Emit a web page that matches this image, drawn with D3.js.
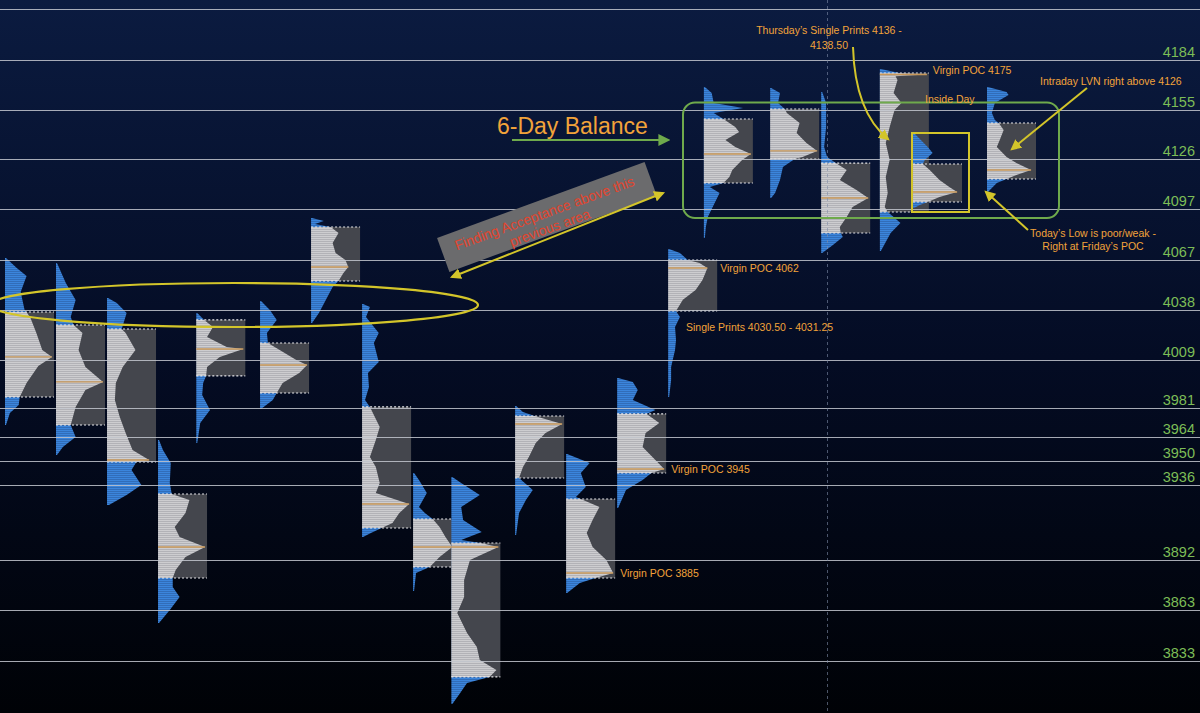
<!DOCTYPE html>
<html><head><meta charset="utf-8">
<script src="https://cdn.jsdelivr.net/npm/d3@7"></script>
<style>html,body{margin:0;padding:0;background:#000;}svg{display:block;}</style>
</head><body>
<svg id="c" width="1200" height="713"></svg>
<script>
// ---------- DATA ----------
const levels = [4214, 4184, 4155, 4126, 4097, 4067, 4038, 4009, 3981, 3964, 3950, 3936, 3892, 3863, 3833];
const levelLabels = ["", "4184", "4155", "4126", "4097", "4067", "4038", "4009", "3981", "3964", "3950", "3936", "3892", "3863", "3833"];
// session positions on the time axis
const sessionX = [0, 1, 2, 3, 3.75, 5, 6, 7, 8, 8.75, 10, 11, 12, 13, 13.7, 15, 16, 17.15, 17.8, 19.25];
const vah = [4036.8, 4029.2, 4026.9, 3930.5, 4032.2, 4018.7, 4086.5, 3981.4, 3915.9, 3901.9, 3976.1, 3927.6, 3977.3, 4067.2, 4149.5, 4155.4, 4123.8, 4176.4, 4123.3, 4147.2];
const val = [3987.2, 3970.8, 3949.2, 3881.5, 3999.5, 3989.5, 4054.9, 3910.7, 3887.9, 3823.7, 3939.9, 3881.5, 3942.8, 4037.4, 4112.2, 4126.2, 4083, 4095.2, 4101.1, 4114.5];
const poc = [4010.6, 3996, 3950.4, 3899.6, 4015.2, 4005.9, 4063.1, 3924.7, 3899.6, 3899.6, 3971.4, 3884.4, 3945.1, 4062.5, 4129.1, 4130.9, 4103.4, 4175.5, 4106.9, 4119.8];
// volume profiles: [price, relative volume]
const profile01 = [[4068.4,1],[4062.5,12],[4057.9,22],[4048.5,16],[4038,20],[4036.8,22],[4033.3,26],[4024.6,32],[4014.6,38],[4010.6,48],[4005.3,34],[3995.4,22],[3987.2,15],[3982.5,14],[3977.8,5],[3970.8,1]];
const profile02 = [[4065.4,1],[4053.8,10],[4043.8,20],[4033.9,15],[4029.2,18],[4024.6,27],[4014.6,23],[4004.7,30],[3996,48],[3991.3,30],[3981.4,20],[3970.8,15],[3963.8,20],[3958,7],[3953.3,1]];
const profile03 = [[4045,1],[4042.1,10],[4036.2,20],[4026.9,15],[4024.6,19],[4014.6,29],[4004.7,16],[3995.4,9],[3985.4,8],[3975.5,13],[3966.2,19],[3956.2,26],[3950.4,43],[3949.2,30],[3944.6,25],[3935.8,35],[3930,20],[3924.1,2]];
const profile04 = [[3962.1,1],[3956.2,5],[3948.6,13],[3937,12],[3930.5,14],[3927,32],[3919.4,28],[3911.3,17],[3905.4,22],[3899.6,48],[3893.8,28],[3886.2,18],[3881.5,15],[3876.2,15],[3870.4,22],[3862.8,12],[3855.2,1]];
const profile05 = [[4036.2,1],[4032.2,8],[4028.1,17],[4022.2,11],[4016.4,31],[4015.2,48],[4010.6,24],[4004.7,11],[3999.5,10],[3995.4,7],[3988.4,6],[3979.6,14],[3972,4],[3960.3,1]];
const profile06 = [[4043.3,1],[4038,10],[4032.2,17],[4024.6,7],[4018.7,8],[4014.6,20],[4008.8,37],[4005.9,48],[4001.2,40],[3995.4,23],[3989.5,17],[3985.4,13],[3980.2,1]];
const profile07 = [[4091.7,1],[4090,13],[4088.2,4],[4086.5,20],[4083,28],[4077.1,22],[4071.3,25],[4067.2,35],[4063.1,38],[4059.6,33],[4054.9,28],[4051.4,22],[4043.8,15],[4036.2,8],[4030.4,1]];
const profile08 = [[4041.5,1],[4039.8,8],[4033.9,4],[4024.6,17],[4018.7,12],[4007.6,17],[4001.2,6],[3993,7],[3985.4,3],[3981.4,8],[3977.8,11],[3969.7,18],[3962.1,14],[3952.2,8],[3946.3,14],[3937,18],[3931.1,14],[3924.7,48],[3919.4,38],[3913.6,31],[3910.7,20],[3907.8,9],[3905.4,1]];
const profile09 = [[3942.8,1],[3938.7,6],[3931.1,14],[3923,6],[3919.4,12],[3915.9,20],[3911.3,27],[3905.4,33],[3899.6,40],[3893.8,27],[3887.9,17],[3884.4,3],[3873.9,1]];
const profile10 = [[3940.5,1],[3937,10],[3930,29],[3923,10],[3915.4,12],[3908.4,31],[3903.7,10],[3901.9,30],[3899.6,48],[3892,19],[3880.3,13],[3870.4,13],[3861,6],[3849.4,16],[3841.2,26],[3833.6,29],[3827.8,46],[3823.7,39],[3820.2,16],[3814.3,9],[3807.9,1]];
const profile11 = [[3981.9,1],[3978.4,8],[3976.1,20],[3971.4,48],[3966.2,31],[3960.3,21],[3952.2,14],[3946.3,8],[3939.9,4],[3932.9,18],[3927,11],[3919.4,4],[3906.6,1]];
const profile12 = [[3953.9,1],[3948.6,24],[3942.8,15],[3934.6,20],[3928.8,10],[3923,34],[3915.4,27],[3907.8,21],[3899.6,27],[3892,41],[3884.4,48],[3881.5,30],[3878.6,14],[3872.7,1]];
const profile13 = [[3998.3,1],[3996,16],[3991.3,21],[3985.4,16],[3979.6,39],[3977.3,30],[3972,43],[3966.2,29],[3958,26],[3952.2,36],[3945.1,48],[3942.8,35],[3938.7,26],[3932.9,9],[3922.4,1]];
const profile14 = [[4073.6,1],[4071.3,12],[4067.2,20],[4065.4,32],[4062.5,40],[4059.6,38],[4055.5,35],[4049.7,28],[4044,15],[4037.4,8],[4033.9,12],[4028.1,7],[4020.5,8],[4014.6,7],[4004.7,3],[3997.1,3],[3987.2,1]];
const profile15 = [[4168.2,1],[4164.7,8],[4158.9,10],[4156,40],[4153,10],[4149.5,20],[4144.9,32],[4142,36],[4137.3,22],[4133.2,32],[4129.1,48],[4125.6,39],[4119.8,29],[4115.7,26],[4112.2,20],[4109.8,6],[4106.3,16],[4100.5,11],[4092.3,4],[4086.5,2],[4080,1]];
const profile16 = [[4167.6,1],[4164.7,10],[4158.9,8],[4155.4,15],[4153,17],[4147.2,30],[4141.4,27],[4135.5,37],[4130.9,48],[4127.4,33],[4126.2,25],[4121.5,13],[4113.9,10],[4106.3,5],[4103.4,1]];
const profile17 = [[4165.3,1],[4158.9,5],[4144.9,5],[4133.2,3],[4127.4,6],[4123.8,15],[4119.8,26],[4113.9,19],[4108.1,36],[4103.4,48],[4098.2,32],[4092.3,26],[4086.5,19],[4083,20],[4080.6,22],[4076,12],[4071.3,1]];
const profile18 = [[4178.7,1],[4176.4,20],[4175.5,48],[4174.5,16],[4172.3,18],[4164.7,14],[4158.9,22],[4154.8,15],[4144.9,10],[4135.5,6],[4125.6,10],[4115.7,6],[4106.3,8],[4098.2,5],[4095.2,8],[4092.3,14],[4088.8,21],[4083,11],[4072.5,1]];
const profile19 = [[4141.4,1],[4139,5],[4133.2,15],[4129.7,20],[4125.6,12],[4123.3,10],[4119.8,17],[4113.9,27],[4109.8,37],[4106.9,45],[4104,27],[4101.1,15],[4099.3,7],[4097.6,1]];
const profile20 = [[4168.2,1],[4165.3,20],[4163.6,22],[4158.9,8],[4153,5],[4149,8],[4147.2,12],[4143.1,17],[4137.3,13],[4133.2,10],[4127.4,20],[4123.8,30],[4119.8,45],[4116.8,30],[4114.5,20],[4112.2,10],[4106.9,1]];
const profiles = [profile01, profile02, profile03, profile04, profile05, profile06, profile07, profile08, profile09, profile10,
                  profile11, profile12, profile13, profile14, profile15, profile16, profile17, profile18, profile19, profile20];
// labels attached to sessions: [session index, text, dx, dy]
const pocLabels = [[17, "Virgin POC 4175", 4, -1], [13, "Virgin POC 4062", 3, 4], [12, "Virgin POC 3945", 5, 4], [11, "Virgin POC 3885", 5, 4]];

// ---------- SCALES ----------
const W = 1200, H = 713;
const x = d3.scaleLinear().domain([0, 19.25]).range([5, 987]);
const y = d3.scaleLinear().domain([4184, 3833]).range([60, 661]);
const w = d3.scaleLinear().domain([0, 50]).range([0, 49]);
const boxW = w(50);

const svg = d3.select("#c");
const defs = svg.append("defs");
const bg = defs.append("linearGradient").attr("id", "bg").attr("x1", 0).attr("y1", 0).attr("x2", 0).attr("y2", 1);
bg.append("stop").attr("offset", "0%").attr("stop-color", "#0b1b40");
bg.append("stop").attr("offset", "50%").attr("stop-color", "#040c24");
bg.append("stop").attr("offset", "100%").attr("stop-color", "#000206");
svg.append("rect").attr("width", W).attr("height", H).attr("fill", "url(#bg)");

function stripe(id, c1, c2) {
  const p = defs.append("pattern").attr("id", id).attr("patternUnits", "userSpaceOnUse").attr("width", 8).attr("height", 2);
  p.append("rect").attr("width", 8).attr("height", 2).attr("fill", c1);
  p.append("rect").attr("y", 1.3).attr("width", 8).attr("height", 0.7).attr("fill", c2);
}
stripe("stLight", "#cdcdd0", "#a6a7ac");
stripe("stBlue", "#3b85dc", "#2c62aa");

function marker(id, color, size) {
  defs.append("marker").attr("id", id).attr("viewBox", "0 0 10 10").attr("refX", 8).attr("refY", 5)
    .attr("markerWidth", size).attr("markerHeight", size).attr("markerUnits", "userSpaceOnUse")
    .attr("orient", "auto-start-reverse")
    .append("path").attr("d", "M0,0 L10,5 L0,10 Z").attr("fill", color);
}
marker("mY", "#d3c52a", 11);
marker("mG", "#6faa4c", 12);

// ---------- PROFILES ----------
const gP = svg.append("g");
profiles.forEach((prof, i) => {
  const x0 = x(sessionX[i]);
  const area = d3.area().y(d => y(d[0])).x0(x0).x1(d => x0 + w(d[1])).curve(d3.curveLinear);
  const g = gP.append("g");
  g.append("path").datum(prof).attr("d", area).attr("fill", "url(#stBlue)");
  const yT = y(vah[i]), yB = y(val[i]);
  g.append("rect").attr("x", x0).attr("y", yT).attr("width", boxW).attr("height", yB - yT).attr("fill", "#44464d");
  defs.append("clipPath").attr("id", "va" + i).append("rect")
    .attr("x", x0 - 2).attr("y", yT).attr("width", boxW + 10).attr("height", yB - yT);
  g.append("path").datum(prof).attr("d", area).attr("fill", "url(#stLight)").attr("clip-path", `url(#va${i})`);
  [yT, yB].forEach(yy => g.append("line").attr("x1", x0).attr("x2", x0 + boxW)
    .attr("y1", yy).attr("y2", yy).attr("stroke", "#e6e6ea").attr("stroke-width", 1.1).attr("stroke-dasharray", "2,2"));
  const pn = prof.find(d => d[0] === poc[i]);
  const pw = pn ? pn[1] : d3.max(prof, d => d[1]);
  g.append("line").attr("x1", x0).attr("x2", x0 + w(pw)).attr("y1", y(poc[i])).attr("y2", y(poc[i]))
    .attr("stroke", "#c8985a").attr("stroke-width", 1.4);
});

// ---------- LEVEL LINES ----------
svg.append("g").selectAll("line").data(levels).join("line")
  .attr("x1", 0).attr("x2", W).attr("y1", d => Math.round(y(d)) + 0.5).attr("y2", d => Math.round(y(d)) + 0.5)
  .attr("stroke", "#c3c7cf").attr("stroke-opacity", 0.85).attr("stroke-width", 1);
svg.append("g").selectAll("text").data(levels).join("text")
  .attr("x", 1195).attr("y", d => Math.round(y(d)) - 3).attr("text-anchor", "end")
  .attr("font-family", "Liberation Sans, Arial, sans-serif").attr("font-size", 14.5).attr("fill", "#7cbd57")
  .text((d, i) => levelLabels[i]);

// vertical dashed session line
svg.append("line").attr("x1", 827.5).attr("x2", 827.5).attr("y1", 0).attr("y2", H)
  .attr("stroke", "#7f8ca8").attr("stroke-opacity", 0.6).attr("stroke-dasharray", "3,3");

// ---------- ANNOTATIONS ----------
const FONT = "Liberation Sans, Arial, sans-serif";
const ORANGE = "#f2a33a", YEL = "#d3c52a", GREEN = "#6faa4c";
const ann = svg.append("g").attr("font-family", FONT);

// ellipse
ann.append("ellipse").attr("cx", 234).attr("cy", 305).attr("rx", 244).attr("ry", 22)
  .attr("fill", "none").attr("stroke", YEL).attr("stroke-width", 2.2);

// balance box
ann.append("rect").attr("x", 683).attr("y", 102.5).attr("width", 376).attr("height", 115.5).attr("rx", 12)
  .attr("fill", "none").attr("stroke", GREEN).attr("stroke-width", 2);
// inside day box
ann.append("rect").attr("x", 912).attr("y", 133).attr("width", 57).attr("height", 79)
  .attr("fill", "none").attr("stroke", YEL).attr("stroke-width", 2);

// 6-day balance
ann.append("text").attr("x", 497).attr("y", 134).attr("font-size", 23).attr("fill", ORANGE).text("6-Day Balance");
ann.append("line").attr("x1", 512).attr("y1", 140).attr("x2", 668).attr("y2", 140)
  .attr("stroke", GREEN).attr("stroke-width", 2).attr("marker-end", "url(#mG)");

// Finding acceptance box
const fa = ann.append("g").attr("transform", "translate(547,217) rotate(-20.1)");
fa.append("rect").attr("x", -110.5).attr("y", -18).attr("width", 221).attr("height", 36).attr("fill", "#6b6b6d");
fa.append("text").attr("x", -1).attr("y", 0.5).attr("text-anchor", "middle").attr("font-size", 14).attr("fill", "#e2452f")
  .text("Finding Acceptance above this");
fa.append("text").attr("x", -1).attr("y", 16).attr("text-anchor", "middle").attr("font-size", 14).attr("fill", "#e2452f")
  .text("previous area");
ann.append("line").attr("x1", 452).attr("y1", 277).attr("x2", 663).attr("y2", 193)
  .attr("stroke", YEL).attr("stroke-width", 2).attr("marker-start", "url(#mY)").attr("marker-end", "url(#mY)");

// arrows
ann.append("path").attr("d", "M853,47 Q855,112 888,139").attr("fill", "none")
  .attr("stroke", YEL).attr("stroke-width", 2).attr("marker-end", "url(#mY)");
ann.append("line").attr("x1", 1087).attr("y1", 88).attr("x2", 1012).attr("y2", 149)
  .attr("stroke", YEL).attr("stroke-width", 2).attr("marker-end", "url(#mY)");
ann.append("line").attr("x1", 1028).attr("y1", 230).attr("x2", 986).attr("y2", 192)
  .attr("stroke", YEL).attr("stroke-width", 2).attr("marker-end", "url(#mY)");

// texts
const T = (tx, ty, s, anchor) => ann.append("text").attr("x", tx).attr("y", ty).attr("font-size", 10.5)
  .attr("fill", ORANGE).attr("text-anchor", anchor || "start").text(s);
T(829, 34, "Thursday\u2019s Single Prints 4136 -", "middle");
T(829, 49, "4138.50", "middle");
T(1040, 85, "Intraday LVN right above 4126");
T(925, 103, "Inside Day");
T(1093, 237, "Today\u2019s Low is poor/weak -", "middle");
T(1093, 250, "Right at Friday\u2019s POC", "middle");
T(686, 331, "Single Prints 4030.50 - 4031.25");
pocLabels.forEach(([i, s, dx, dy]) => T(x(sessionX[i]) + boxW + dx, y(poc[i]) + dy, s));
</script>
</body></html>
